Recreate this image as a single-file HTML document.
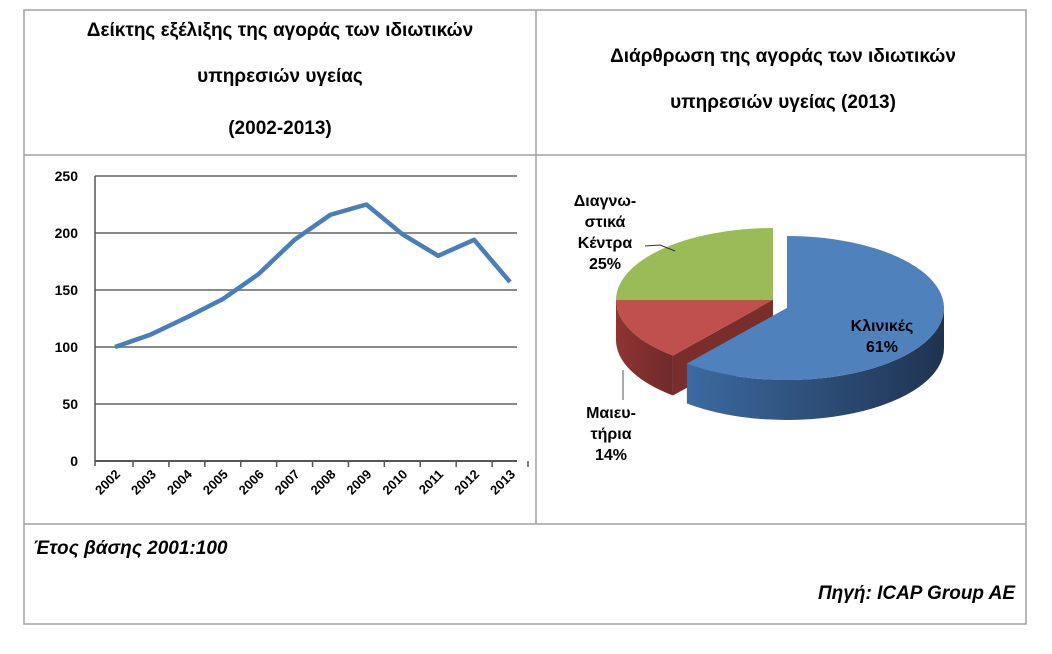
<!DOCTYPE html>
<html><head><meta charset="utf-8"><style>
body{margin:0;background:#fff;width:1052px;height:649px;overflow:hidden;font-family:"Liberation Sans","DejaVu Sans",sans-serif}
svg text{font-family:"Liberation Sans","DejaVu Sans",sans-serif}
</style></head><body>
<svg width="1052" height="649">
<g stroke="#a0a0a0" stroke-width="1.5" fill="none">
<rect x="24" y="10" width="1002" height="614"/>
<line x1="536" y1="10" x2="536" y2="524"/>
<line x1="24" y1="155" x2="1026" y2="155"/>
<line x1="24" y1="524" x2="1026" y2="524"/>
</g>
<g font-weight="bold" font-size="19" text-anchor="middle" fill="#000">
<text><tspan x="280" y="36">Δείκτης εξέλιξης της αγοράς των ιδιωτικών</tspan><tspan x="280" y="82">υπηρεσιών υγείας</tspan><tspan x="280" y="134">(2002-2013)</tspan></text>
<text><tspan x="783" y="62">Διάρθρωση της αγοράς των ιδιωτικών</tspan><tspan x="783" y="108">υπηρεσιών υγείας (2013)</tspan></text>
</g>
<g id="line-chart"></g>
<g id="pie-chart"></g>
<text x="33" y="554" font-size="19" font-weight="bold" font-style="italic">Έτος βάσης 2001:100</text>
<text x="1015" y="599" font-size="19" font-weight="bold" font-style="italic" text-anchor="end">Πηγή:  ICAP Group AE</text>
</svg>
<script>
const years=["2002","2003","2004","2005","2006","2007","2008","2009","2010","2011","2012","2013"];
const indexValues=[100,111,126,142,164,194,216,225,199,180,194,157];
const yTicks=[0,50,100,150,200,250];
const pieLabels=["Κλινικές","Μαιευ-τήρια","Διαγνω-στικά Κέντρα"];
const pieShares=[61,14,25];
const NS="http://www.w3.org/2000/svg";
function mk(p,t,a){const e=document.createElementNS(NS,t);for(const k in a)e.setAttribute(k,a[k]);p.appendChild(e);return e;}
const lc=document.getElementById('line-chart');
const X0=95,X1=517,Y0=461,Y1=176,yMax=250;
const PX0=115,PX1=510;
const xs=i=>PX0+(PX1-PX0)/(years.length-1)*i;
const ys=v=>Y0-(v/yMax)*(Y0-Y1);
yTicks.forEach(t=>{
 const g=mk(lc,'line',{x1:X0,x2:X1,y1:ys(t),y2:ys(t),stroke:t===0?'#555':'#8a8a8a','stroke-width':2});
 
 
 const tx=mk(lc,'text',{x:78,y:ys(t)+5,'text-anchor':'end','font-size':14,'font-weight':'bold'});
 tx.textContent=t;
 
 
});
const ax=mk(lc,'line',{x1:X0,x2:X0,y1:Y1,y2:Y0+5,stroke:'#555','stroke-width':1.5});


years.forEach((y,i)=>{
 const x=xs(i)+18;
 const tk=mk(lc,'line',{x1:x,x2:x,y1:Y0,y2:Y0+6,stroke:'#555','stroke-width':1.5});
 
 
 const cx=xs(i)+6,cy=Y0+14;
 const t=mk(lc,'text',{x:cx,y:cy,'text-anchor':'end','font-size':13,'font-weight':'bold',transform:`rotate(-45 ${cx} ${cy})`});
 t.textContent=y;
 
 
});
const pl=mk(lc,'polyline',{points:indexValues.map((v,i)=>xs(i)+','+ys(v)).join(' '),fill:'none',stroke:'#4a7ebb','stroke-width':4.5,'stroke-linejoin':'round'});


const pc=document.getElementById('pie-chart');
const defs=mk(pc,'defs',{});
function grad(id,c1,c2){const g=mk(defs,'linearGradient',{id:id,x1:0,x2:1,y1:0,y2:0});mk(g,'stop',{offset:0,'stop-color':c1});mk(g,'stop',{offset:1,'stop-color':c2});}
grad('gb','#3c6aa0','#1f3350');grad('gr','#8e3432','#6e2a29');grad('gg','#5f7a2f','#4a5f24');
const colors=['#4f81bd','#c0504d','#9bbb59'];
const sides=['url(#gb)','url(#gr)','url(#gg)'];
const centers=[[787,308],[773,300],[773,300]];
const RX=157,RY=72,D=40;
const slices=[];let acc=0;
pieShares.forEach((s,i)=>{slices.push([acc,acc+s]);acc+=s;});
const ang=p=>(-90+p*3.6)*Math.PI/180;
const pt=(c,a,dy=0)=>[c[0]+RX*Math.cos(a),c[1]+RY*Math.sin(a)+dy];
function arcPath(c,a1,a2,dy){const p1=pt(c,a1,dy),p2=pt(c,a2,dy);const large=(a2-a1)>Math.PI?1:0;return `M${c[0]},${c[1]+dy} L${p1[0]},${p1[1]} A${RX},${RY} 0 ${large} 1 ${p2[0]},${p2[1]} Z`;}
const order=[2,1,0];
order.forEach(i=>{
 const c=centers[i];let a1=ang(slices[i][0]),a2=ang(slices[i][1]);
 const s1=Math.max(a1,0),s2=Math.min(a2,Math.PI);
 if(i===0){const p=pt(c,a2);const f=mk(pc,'path',{d:`M${c[0]},${c[1]} L${p[0]},${p[1]} L${p[0]},${p[1]+D} L${c[0]},${c[1]+D} Z`,fill:'#2c4a75'});}
 if(i===1){const p=pt(c,a1);const f=mk(pc,'path',{d:`M${c[0]},${c[1]} L${p[0]},${p[1]} L${p[0]},${p[1]+D} L${c[0]},${c[1]+D} Z`,fill:'#7a2e2c'});}
 if(i===2){const p=pt(c,Math.PI);const f=mk(pc,'path',{d:`M${c[0]},${c[1]} L${p[0]},${p[1]} L${p[0]},${p[1]+8} L${c[0]},${c[1]+8} Z`,fill:'#3d4f1e'});}
 if(s2>s1){const p1=pt(c,s1),p2=pt(c,s2);
  const sd=mk(pc,'path',{d:`M${p1[0]},${p1[1]} A${RX},${RY} 0 0 1 ${p2[0]},${p2[1]} L${p2[0]},${p2[1]+D} A${RX},${RY} 0 0 0 ${p1[0]},${p1[1]+D} Z`,fill:sides[i]});
  
  }
});
order.forEach(i=>{
 const c=centers[i];
 const p=mk(pc,'path',{d:arcPath(c,ang(slices[i][0]),ang(slices[i][1]),0),fill:colors[i]});
 
 
});
function lbl(lines,x,y,name){const t=mk(pc,'text',{'text-anchor':'middle','font-size':16,'font-weight':'bold'});lines.forEach((l,k)=>{const s=mk(t,'tspan',{x:x,y:y+k*21});s.textContent=l;});}
const L0=pieLabels[0],L1=pieLabels[1].split('-'),L2=pieLabels[2].split('-');
lbl([L0,pieShares[0]+'%'],882,331,'label-clinics');
lbl([L1[0]+'-',L1[1],pieShares[1]+'%'],611,418,'label-maternity');
lbl([L2[0]+'-',L2[1].split(' ')[0],L2[1].split(' ')[1],pieShares[2]+'%'],605,206,'label-diagnostic');
const l1=mk(pc,'path',{d:'M645,246 L660,245 L675,251',fill:'none',stroke:'#333','stroke-width':1});


const l2=mk(pc,'path',{d:'M623,370 L623,400',fill:'none',stroke:'#555','stroke-width':1});


</script>
</body></html>
